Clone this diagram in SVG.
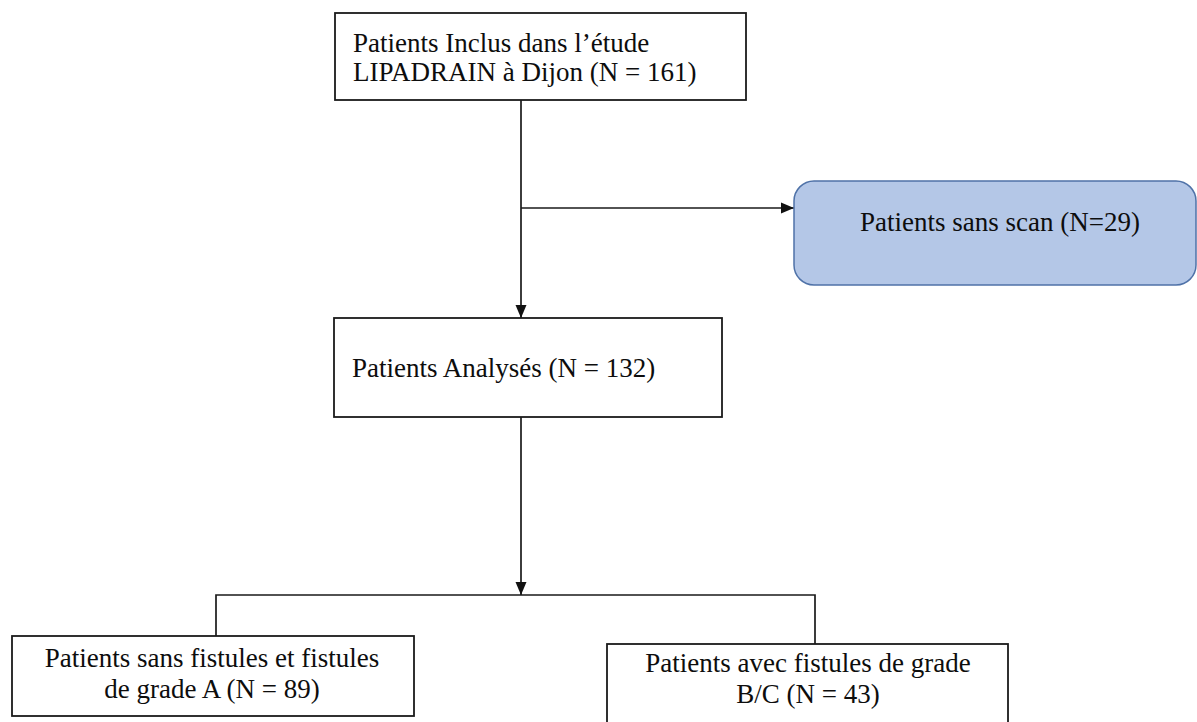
<svg xmlns="http://www.w3.org/2000/svg" width="1197" height="722" viewBox="0 0 1197 722">
<style>
.box{fill:#ffffff;stroke:#1a1a1a;stroke-width:1.8}
.blue{fill:#b4c7e7;stroke:#4f72a8;stroke-width:1.5}
.t{font-family:"Liberation Serif","Times New Roman",serif;font-size:27px;fill:#0d0d0d}
.c{text-anchor:middle}
.ln{fill:none;stroke:#1a1a1a;stroke-width:1.7}
</style>
<defs>
<marker id="arr" viewBox="0 0 13 12" refX="13" refY="6" markerWidth="13" markerHeight="12" markerUnits="userSpaceOnUse" orient="auto">
<path d="M0,0.5 L13,6 L0,11.5 Z" fill="#111"/>
</marker>
</defs>
<rect width="1197" height="722" fill="#ffffff"/>
<g id="connectors">
<line class="ln" x1="521" y1="100" x2="521" y2="318" marker-end="url(#arr)"/>
<line class="ln" x1="521" y1="208" x2="794" y2="208" marker-end="url(#arr)"/>
<line class="ln" x1="521" y1="417" x2="521" y2="595" marker-end="url(#arr)"/>
<polyline class="ln" points="216,636 216,595 815,595 815,644"/>
</g>
<g id="node-inclus">
<rect class="box" x="335" y="13" width="411" height="87"/>
<text class="t" x="353" y="52">Patients Inclus dans l’étude</text>
<text class="t" x="353" y="81">LIPADRAIN à Dijon (N = 161)</text>
</g>
<g id="node-sans-scan">
<rect class="blue" x="794" y="181" width="402" height="104" rx="20" ry="20"/>
<text class="t c" x="1000" y="231">Patients sans scan (N=29)</text>
</g>
<g id="node-analyses">
<rect class="box" x="334" y="318" width="388" height="99"/>
<text class="t" x="352" y="377">Patients Analysés (N = 132)</text>
</g>
<g id="node-grade-a">
<rect class="box" x="12" y="636" width="402" height="80"/>
<text class="t c" x="212" y="667">Patients sans fistules et fistules</text>
<text class="t c" x="212" y="698">de grade A (N = 89)</text>
</g>
<g id="node-grade-bc">
<rect class="box" x="607" y="644" width="401" height="90"/>
<text class="t c" x="808" y="672">Patients avec fistules de grade</text>
<text class="t c" x="808" y="703">B/C (N = 43)</text>
</g>
</svg>
